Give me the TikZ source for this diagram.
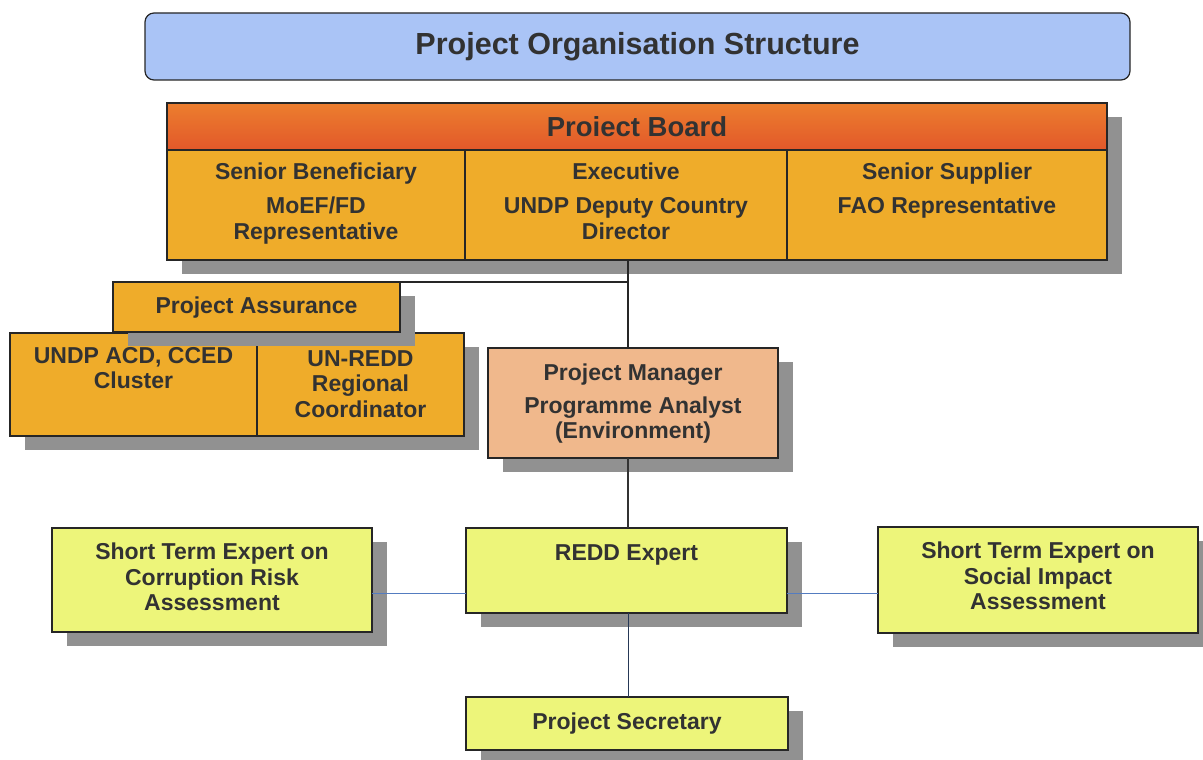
\documentclass[tikz,border=0pt]{standalone}
\usepackage{fontspec}
\setmainfont{Liberation Sans}
\usetikzlibrary{calc,shadows}

\definecolor{titleblue}{RGB}{170,196,246}
\definecolor{boardred}{RGB}{226,88,42}
\definecolor{boardorange}{RGB}{236,126,46}
\definecolor{gold}{RGB}{239,172,42}
\definecolor{peach}{RGB}{240,184,140}
\definecolor{lemon}{RGB}{237,245,122}
\definecolor{inkgray}{RGB}{50,50,50}
\definecolor{linkblue}{RGB}{84,124,192}
\definecolor{shadowgray}{RGB}{145,145,145}

\begin{document}
\begin{tikzpicture}[x=1pt, y=-1pt,
  box/.style={draw=black!85, line width=1.2pt, anchor=north west, inner sep=0pt, outer sep=0pt},
  shadowed/.style={drop shadow={shadow xshift=15pt, shadow yshift=-14pt, fill=shadowgray, opacity=1}},
  txt/.style={anchor=north, yshift=#1, inner sep=0pt, align=center, text=inkgray,
    font=\bfseries\fontsize{23}{25.5}\selectfont},
  txt/.default=-16pt]
\useasboundingbox (0,0) rectangle (1203,760);
%title bar
\node[box, rounded corners=9pt, fill=titleblue, minimum width=985pt, minimum height=67pt,
  text=inkgray, font=\bfseries\fontsize{30.5}{34}\selectfont] (title) at (145,13) {Project Organisation Structure};

%project board with its three seats
\node[box, shadowed, fill=gold, minimum width=940pt, minimum height=157pt] (board) at (167,103) {};
\node[box, top color=boardorange, bottom color=boardred, minimum width=940pt, minimum height=47pt,
  text=inkgray, font=\bfseries\fontsize{27.5}{30}\selectfont] (boardhead) at (167,103) {Proiect Board};
\begin{scope}[every node/.append style={minimum height=110pt}]
\node[box, fill=gold, minimum width=298pt] (benef) at (boardhead.south west) {};
\node[box, fill=gold, minimum width=322pt] (exec) at (benef.north east) {};
\node[box, fill=gold, minimum width=320pt] (supplier) at (exec.north east) {};
\end{scope}
\node[txt=-13pt] (benefl) at (benef.north) {Senior Beneficiary\\[8.5pt]MoEF/FD\\Representative};
\node[txt=-13pt] (execl) at (exec.north) {Executive\\[8.5pt]UNDP Deputy Country\\Director};
\node[txt=-13pt] (supplierl) at (supplier.north) {Senior Supplier\\[8.5pt]FAO Representative};

%assurance group
\node[box, shadowed, fill=gold, minimum width=454pt, minimum height=103pt] (assurgrp) at (10,333) {};
\node[box, fill=gold, minimum width=247pt, minimum height=103pt] (acd) at (10,333) {};
\node[box, fill=gold, minimum width=207pt, minimum height=103pt] (unredd) at (acd.north east) {};
\node[txt=-14pt] (acdl) at (acd.north) {UNDP ACD, CCED\\Cluster};
\node[txt=-17pt] (unreddl) at (unredd.north) {UN-REDD\\Regional\\Coordinator};
\node[box, shadowed, fill=gold, minimum width=287pt, minimum height=50pt] (assure) at (113,282) {};
\node[txt=-15pt] (assurel) at (assure.north) {Project Assurance};

%management line
\node[box, shadowed, fill=peach, minimum width=290pt, minimum height=110pt] (pm) at (488,348) {};
\node[txt] (pml) at (pm.north) {Project Manager\\[7pt]Programme Analyst\\(Environment)};

%experts
\node[box, shadowed, fill=lemon, minimum width=320pt, minimum height=104pt] (stecorr) at (52,528) {};
\node[txt=-15pt] (stecorrl) at (stecorr.north) {Short Term Expert on\\Corruption Risk\\Assessment};
\node[box, shadowed, fill=lemon, minimum width=321pt, minimum height=85pt] (redd) at (466,528) {};
\node[txt] (reddl) at (redd.north) {REDD Expert};
\node[box, shadowed, fill=lemon, minimum width=320pt, minimum height=106pt] (stesoc) at (878,527) {};
\node[txt=-15pt] (stesocl) at (stesoc.north) {Short Term Expert on\\Social Impact\\Assessment};
\node[box, shadowed, fill=lemon, minimum width=322pt, minimum height=53pt] (secr) at (466,697) {};
\node[txt] (secrl) at (secr.north) {Project Secretary};

%connectors
\coordinate (spine) at (628,0);
\coordinate (midrow) at (0,593);
\draw[line width=1.2pt, black!85] (board.south -| spine) -- (pm.north -| spine);
\draw[line width=1.2pt, black!85] (assure.north east) -- (assure.north east -| spine);
\draw[line width=1.2pt, black!80] (pm.south -| spine) -- (redd.north -| spine);
\draw[line width=1pt, black!55!linkblue] (redd.south -| spine) -- (secr.north -| spine);
\draw[line width=1pt, linkblue] (stecorr.east |- midrow) -- (redd.west |- midrow) (redd.east |- midrow) -- (stesoc.west |- midrow);
\end{tikzpicture}
\end{document}
